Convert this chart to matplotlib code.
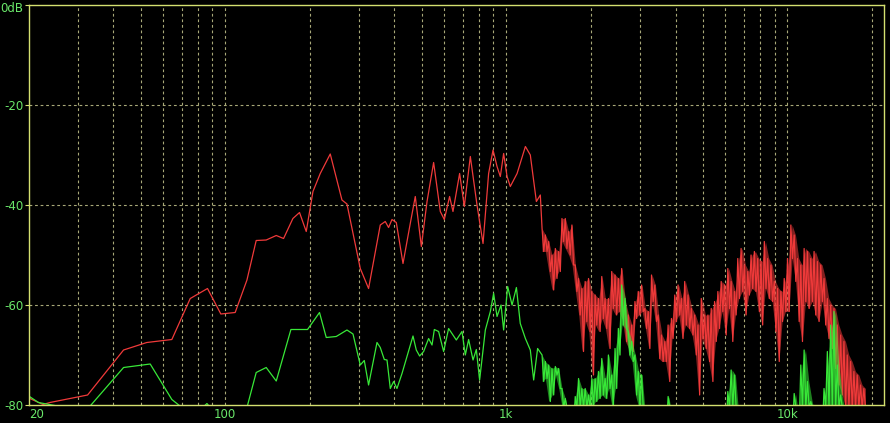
import numpy as np
import matplotlib.pyplot as plt
from matplotlib.transforms import ScaledTranslation

# low / mid part of both spectra (Hz, dB)
red_freq = [20.0, 22.5, 23.8, 32.4, 43.5, 52.6, 64.6, 75.1, 86.5, 96.5, 108.5, 119.5,
            128.9, 139.9, 151.9, 161.3, 174.1, 183.8, 194.2, 205.2, 217.8, 236.4, 260.2,
            271.1, 302.3, 323.6, 356.1, 371.0, 381.2, 392.0, 406.1, 429.0, 455.3, 474.4,
            498.5, 522.3, 551.3, 582.3, 601.7, 628.4, 646.0, 682.1, 708.8, 744.6, 786.5,
            826.3, 865.0, 896.8, 926.7, 952.0, 978.2, 1006, 1033, 1092, 1169, 1217, 1279,
            1321]
red_db = [-78.6, -79.9, -79.5, -78.0, -69.0, -67.5, -66.9, -58.7, -56.7, -61.8, -61.5, -55.0,
          -47.1, -47.0, -46.1, -46.7, -42.7, -41.5, -45.3, -37.3, -33.7, -29.8, -39.0,
          -39.8, -52.7, -56.7, -44.0, -43.3, -44.5, -42.9, -43.5, -51.7, -43.7, -38.3,
          -48.3, -39.3, -31.5, -41.3, -42.9, -38.3, -41.3, -33.7, -40.3, -30.3, -40.0,
          -47.7, -33.7, -29.0, -32.3, -34.3, -29.7, -34.3, -36.3, -33.7, -28.3, -30.0, -39.3,
          -38.0]

green_freq = [20.0, 21.66, 25.87, 33.08, 43.5, 54.1, 64.6, 70.1, 81.5, 86.1, 89.9, 119.5,
              128.9, 139.9, 151.9, 171.3, 196.3, 216.5, 228.8, 248.3, 271.1, 284.8, 302.3,
              312.4, 323.6, 346.7, 356.1, 368.0, 376.3, 386.6, 397.2, 408.3, 425.5, 465.6,
              478.3, 491.5, 507.9, 529.2, 544.1, 554.5, 574.3, 598.3, 623.3, 663.9, 695.5,
              714.7, 734.3, 761.3, 782.1, 803.5, 842.0, 877.3, 901.2, 926.7, 957.5, 978.2,
              1011, 1048, 1086, 1121, 1169, 1217, 1251, 1292]
green_db = [-78.2, -79.5, -80.3, -80.2, -72.5, -71.8, -78.9, -80.5, -81.0, -79.7, -81.0, -80.5,
            -73.5, -72.5, -75.2, -64.9, -64.9, -61.5, -66.5, -66.3, -65.0, -65.8, -72.0,
            -71.1, -76.0, -67.5, -68.5, -70.9, -71.0, -76.7, -75.3, -76.7, -73.7, -66.2,
            -69.0, -70.2, -69.3, -66.7, -68.0, -64.9, -65.3, -69.3, -64.7, -67.0, -65.3,
            -70.0, -66.9, -71.0, -68.9, -75.0, -65.0, -61.3, -57.7, -62.3, -60.0, -65.0,
            -56.3, -60.0, -56.5, -63.7, -66.7, -69.0, -75.0, -68.7]

# top end is dense noise: read as peak / dip per slot on an even log grid
hf_start, hf_stop = 1340, 18950
red_hi = [-44.7, -46, -47.3, -50, -48.7, -49.3, -42.7, -42.7, -45.3, -44, -52, -54.7, -56.7,
          -55.3, -54.7, -57.3, -58, -58.7, -54.3, -58.7, -58.7, -53.3, -54, -54.7, -52.7,
          -59.3, -62, -64, -59.3, -57.3, -56, -60.7, -61.3,
          -54, -56, -62, -66, -67.3, -64, -62.7, -58, -56, -58.7, -55.3, -58, -60.7, -62,
          -64, -58.7, -62, -62, -60.7, -59.3, -57.3, -55.3, -56, -52.7, -55.3, -57.3, -50.7,
          -48.7, -52, -53.3,
          -50, -49.3, -50.7, -51.3, -47.3, -50.7, -52, -55.3, -56.7, -57.3, -54.7, -50.7,
          -44, -46, -50.7, -52, -48.7, -49.3, -50.7, -49.3, -51.3, -52, -54.7, -58.7, -60,
          -60.7, -64, -66, -67.3, -70, -71.3, -73.3, -74, -76, -76.7]
red_lo = [-49.3, -49.3, -53.3, -57, -54.7, -53.3, -47.3, -48.7, -50, -52, -57.3, -62, -69.3,
          -63.3, -65.3, -74, -64, -65.3, -62.7, -64.7, -68.7, -60.7, -62, -61.3, -62.7,
          -67.3, -68.7, -69.3, -62.7, -62, -61.3, -64.7, -68.7,
          -59.3, -63.3, -70.7, -71.3, -71.3, -75.3, -66.7, -63.3, -62, -66.7, -64, -64.7,
          -66, -70, -78, -66.7, -68.7, -71.3, -75.3, -67.3, -64.7, -61.3, -66, -60.7, -67.3,
          -62, -58.7, -57.3, -62, -58,
          -56.7, -57.3, -61.3, -64, -56.7, -58.7, -59.3, -65.3, -71.3, -63.3, -61.3, -61.3,
          -50.7, -55.3, -63.3, -67.3, -59.3, -60.7, -59.3, -62, -63.3, -59.3, -64, -66.7,
          -68.7, -72.7, -76, -78, -80.5, -80.5, -80.5, -80.5, -80.5, -80.5, -80.5]
# -82 / -85 = below the -80 floor
green_hi = ([-70, -71.3, -72, -72.7, -72.3, -72.7, -76.7, -78.7, -82, -82, -78.3, -74.7, -76.7,
             -76.7, -78, -74.7, -74.7, -73.3, -70.7, -74.7, -70, -74, -68.7, -64.7, -56, -58.7,
             -65.3, -67.3, -70, -73.3, -74, -82, -82]
            + [-82] * 5 + [-78.3] + [-82] * 17 + [-77.3, -73, -74] + [-82] * 4
            + [-82] * 13 + [-77.7, -82, -72, -69, -75.3, -79.3] + [-82] * 3
            + [-76.7, -69.3, -64, -61.3, -72, -78] + [-82] * 7)
green_lo = ([-75.3, -74.7, -79.3, -78, -74, -76.7, -80.5, -80.5, -85, -85, -80.5, -80.5, -80.5,
             -80.5, -80.5, -80.5, -79.3, -78.7, -78, -78.7, -76.7, -80.5, -76.7, -70, -64,
             -64.7, -70, -71.3, -78, -80.5, -80.5, -85, -85]
            + [-85] * 5 + [-80.5] + [-85] * 17 + [-80.5] * 3 + [-85] * 4
            + [-85] * 13 + [-80.5, -85, -80.5, -80.5, -80.5, -80.5] + [-85] * 3
            + [-80.5] * 6 + [-85] * 7)

y_ticks = [0, -20, -40, -60, -80]
y_labels = ['0dB', '-20', '-40', '-60', '-80']
x_ticks = [20, 100, 1000, 10000]
x_labels = ['20', '100', '1k', '10k']
grid_x = [30, 40, 50, 60, 70, 80, 90, 100, 200, 300, 400, 500, 600, 700, 800, 900, 1000,
          2000, 3000, 4000, 5000, 6000, 7000, 8000, 9000, 10000, 20000]
grid_y = [-20, -40, -60]

frame_col = '#d4e070'
grid_col = '#a8a878'
text_col = '#6ae86a'
red_col = '#f03a3a'
green_col = '#38e838'


def zigzag(hi, lo):
    f = np.geomspace(hf_start, hf_stop, 2 * len(hi))
    v = np.empty(2 * len(hi))
    v[0::2] = hi
    v[1::2] = lo
    return f, v


slots = np.geomspace(hf_start, hf_stop, len(red_hi))
rf, rv = zigzag(red_hi, red_lo)
gf, gv = zigzag(green_hi, green_lo)
red_f = np.concatenate([red_freq, rf])
red_v = np.concatenate([red_db, rv])
green_f = np.concatenate([green_freq, gf])
green_v = np.concatenate([green_db, gv])

fig = plt.figure(figsize=(8.9, 4.23), dpi=100, facecolor='black')
ax = fig.add_axes([28.7 / 890, 1 - 405 / 423, (884 - 28.7) / 890, 400 / 423])
ax.set_facecolor('black')

for f in grid_x:
    ax.axvline(f, color=grid_col, lw=0.8, dashes=(2.5, 2.5), zorder=1)
for v in grid_y:
    ax.axhline(v, color=grid_col, lw=0.8, dashes=(2.5, 2.5), zorder=1)

# dense noise band fill, then the trace itself
ax.fill_between(slots, red_lo, red_hi, color=red_col, alpha=0.55, lw=0, zorder=2)
ax.plot(red_f, red_v, color=red_col, lw=0.9, zorder=2)
ax.fill_between(slots, green_lo, green_hi, color=green_col, alpha=0.55, lw=0, zorder=3)
ax.plot(green_f, green_v, color=green_col, lw=0.9, zorder=3)

ax.set_xscale('log')
ax.set_xlim(20, 22050)
ax.set_ylim(-80, 0)

ax.set_xticks(x_ticks)
ax.set_xticklabels(x_labels)
ax.xaxis.set_minor_locator(plt.NullLocator())
ax.set_yticks(y_ticks)
ax.set_yticklabels(y_labels)
ax.tick_params(axis='x', length=0, pad=2, colors=text_col, labelsize=8.5)
ax.tick_params(axis='y', length=3, width=0.8, pad=1, color=frame_col, labelcolor=text_col,
               labelsize=8.5)
ax.get_xticklabels()[0].set_horizontalalignment('left')
for lab in ax.get_yticklabels():
    lab.set_verticalalignment('center_baseline')
# keep the top label inside the picture
top = ax.get_yticklabels()[0]
top.set_transform(top.get_transform() + ScaledTranslation(0, -2.5 / 100, fig.dpi_scale_trans))

for s in ax.spines.values():
    s.set_color(frame_col)
    s.set_linewidth(1.0)
    s.set_zorder(4)

fig.savefig('out.png', dpi=100, facecolor='black')
